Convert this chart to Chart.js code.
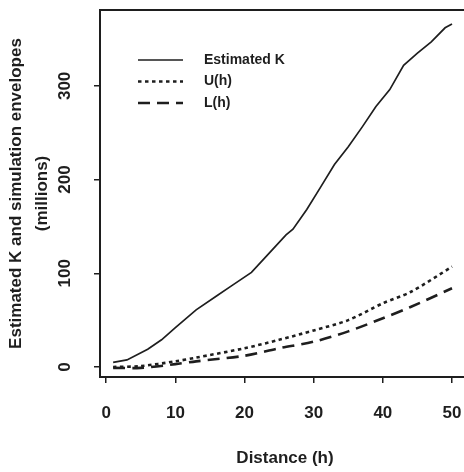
<!DOCTYPE html>
<html>
<head>
<meta charset="utf-8">
<script src="https://cdn.jsdelivr.net/npm/chart.js@4/dist/chart.umd.min.js"></script>
<style>
  html, body { margin: 0; padding: 0; background: #fff; overflow: hidden; }
  canvas { display: block; }
</style>
</head>
<body>
<canvas id="c" width="472" height="472"></canvas>
<script>
  "use strict";

  /* ---- data ------------------------------------------------------------- */
  const kDistance = [1, 3, 6, 8, 10, 13, 16, 18, 21, 23, 26, 27, 29, 31, 33, 35, 37, 39, 41, 43, 45, 47, 49, 50];
  const estimatedK = [5, 7.5, 19, 29, 42, 61, 76, 86, 101, 117, 141, 147, 168, 192, 216, 235, 256, 278, 296, 322, 335, 347, 362, 366];

  const envDistance = [1, 5, 10, 13, 20, 25, 30, 35, 40, 44, 50];
  const upperEnv = [0, 1, 6, 10, 20, 29, 39, 50, 68, 80, 107];
  const lowerEnv = [-1, -1, 3, 6, 12, 20, 27, 38, 52, 64, 84];

  const xTicks = [0, 10, 20, 30, 40, 50];
  const yTicks = [0, 100, 200, 300];

  const INK = "#1e1e1e";
  const FONT = "'Liberation Sans', Arial, sans-serif";

  const pts = (xs, ys) => xs.map((x, i) => ({ x, y: ys[i] }));

  /* box round the plot area (right side runs off the page) */
  const boxPlugin = {
    id: "box",
    afterDatasetsDraw(chart) {
      const a = chart.chartArea, ctx = chart.ctx;
      ctx.save();
      ctx.strokeStyle = INK;
      ctx.lineWidth = 2;
      ctx.strokeRect(a.left, a.top, a.right - a.left, a.bottom - a.top);
      ctx.restore();
    },
  };

  /* y tick labels, rotated parallel to the axis */
  const yLabelPlugin = {
    id: "yLabels",
    afterDraw(chart) {
      const ys = chart.scales.y, ctx = chart.ctx;
      ctx.save();
      ctx.fillStyle = INK;
      ctx.font = "bold 17px " + FONT;
      ctx.textAlign = "center";
      ctx.textBaseline = "middle";
      yTicks.forEach((v) => {
        ctx.save();
        ctx.translate(chart.chartArea.left - 35, ys.getPixelForValue(v));
        ctx.rotate(-Math.PI / 2);
        ctx.fillText(String(v), 0, 0);
        ctx.restore();
      });
      ctx.restore();
    },
  };

  /* legend inside the plot, top left */
  const legendPlugin = {
    id: "innerLegend",
    afterDraw(chart) {
      const a = chart.chartArea, ctx = chart.ctx;
      const x0 = a.left + 38, x1 = a.left + 83, tx = a.left + 104;
      ctx.save();
      ctx.font = "bold 14px " + FONT;
      ctx.textBaseline = "middle";
      chart.data.datasets.forEach((ds, i) => {
        const y = a.top + 50 + i * 21.5;
        ctx.strokeStyle = ds.borderColor;
        ctx.lineWidth = ds.borderWidth;
        ctx.setLineDash(ds.borderDash || []);
        ctx.beginPath();
        ctx.moveTo(x0, y);
        ctx.lineTo(x1, y);
        ctx.stroke();
        ctx.setLineDash([]);
        ctx.fillStyle = INK;
        ctx.fillText(ds.label, tx, y);
      });
      ctx.restore();
    },
  };

  new Chart(document.getElementById("c"), {
    type: "line",
    data: {
      datasets: [
        { label: "Estimated K", data: pts(kDistance, estimatedK), borderColor: INK, borderWidth: 1.7, pointRadius: 0, tension: 0 },
        { label: "U(h)", data: pts(envDistance, upperEnv), borderColor: INK, borderWidth: 2.6, borderDash: [3.5, 3.5], pointRadius: 0, tension: 0.3 },
        { label: "L(h)", data: pts(envDistance, lowerEnv), borderColor: INK, borderWidth: 2.6, borderDash: [12, 7], pointRadius: 0, tension: 0.3 },
      ],
    },
    options: {
      responsive: false,
      animation: false,
      layout: { padding: { top: 10, left: 0, right: 2, bottom: 0 } },
      plugins: { legend: { display: false }, tooltip: { enabled: false } },
      scales: {
        x: {
          type: "linear",
          min: -0.9,
          max: 52.6,
          afterBuildTicks: (s) => { s.ticks = xTicks.map((v) => ({ value: v })); },
          afterFit: (s) => { s.height = 95; s.paddingLeft = 0; s.paddingRight = 0; },
          border: { display: false },
          grid: { drawOnChartArea: false, drawTicks: true, tickLength: 6, color: INK, lineWidth: 1.5 },
          ticks: { color: INK, padding: 20, maxRotation: 0, font: { family: FONT, size: 17, weight: "bold" } },
          title: { display: true, text: "Distance (h)", color: INK, padding: { top: 0, bottom: 3 }, font: { family: FONT, size: 17, weight: "bold" } },
        },
        y: {
          type: "linear",
          min: -10.7,
          max: 381,
          afterBuildTicks: (s) => { s.ticks = yTicks.map((v) => ({ value: v })); },
          afterFit: (s) => { s.width = 100; s.paddingTop = 0; s.paddingBottom = 0; },
          border: { display: false },
          grid: { drawOnChartArea: false, drawTicks: true, tickLength: 6, color: INK, lineWidth: 1.5 },
          ticks: { display: false },
          title: {
            display: true,
            text: ["Estimated K and simulation envelopes", "(millions)"],
            color: INK,
            padding: { top: 3, bottom: 0 },
            font: { family: FONT, size: 17, weight: "bold", lineHeight: 1.55 },
          },
        },
      },
    },
    plugins: [boxPlugin, yLabelPlugin, legendPlugin],
  });
</script>
</body>
</html>
